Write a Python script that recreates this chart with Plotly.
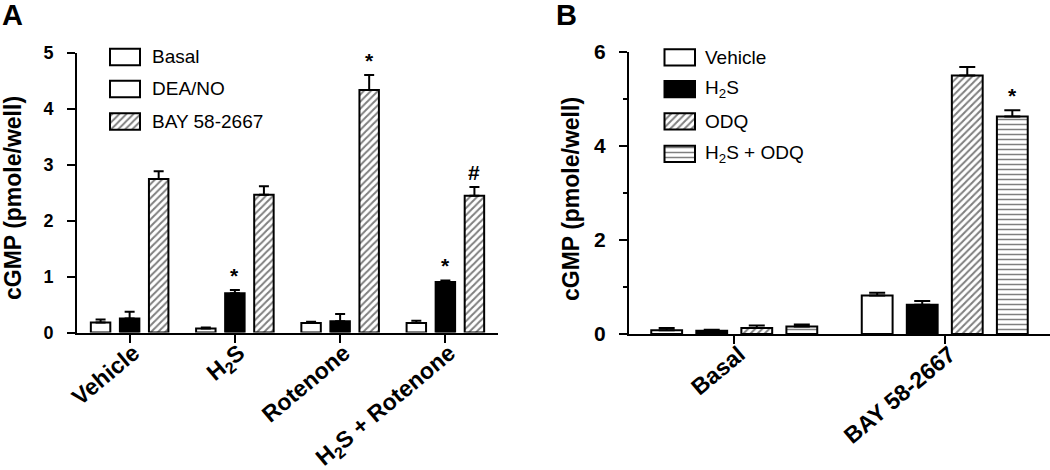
import plotly.graph_objects as go

# ---------------- Data ----------------
# Panel A
a_categories = ["Vehicle", "H<sub>2</sub>S", "Rotenone", "H<sub>2</sub>S + Rotenone"]
a_series = ["Basal", "DEA/NO", "BAY 58-2667"]
a_basal = [0.18, 0.07, 0.17, 0.17]
a_basal_err = [0.05, 0.02, 0.02, 0.04]
a_deano = [0.25, 0.70, 0.20, 0.90]
a_deano_err = [0.12, 0.06, 0.13, 0.03]
a_bay = [2.74, 2.46, 4.33, 2.44]
a_bay_err = [0.14, 0.15, 0.27, 0.16]
a_marks = [["", "", "", ""], ["", "*", "", "*"], ["", "", "*", "#"]]

# Panel B
b_categories = ["Basal", "BAY 58-2667"]
b_series = ["Vehicle", "H<sub>2</sub>S", "ODQ", "H<sub>2</sub>S + ODQ"]
b_vehicle = [0.08, 0.82]
b_vehicle_err = [0.05, 0.06]
b_h2s = [0.07, 0.62]
b_h2s_err = [0.02, 0.08]
b_odq = [0.13, 5.50]
b_odq_err = [0.05, 0.18]
b_h2s_odq = [0.16, 4.63]
b_h2s_odq_err = [0.04, 0.13]
b_marks = [["", ""], ["", ""], ["", ""], ["", "*"]]

# ---------------- Styles ----------------
FONT = "Liberation Sans, Arial, sans-serif"
W, H = 1050, 470

def style(kind):
    if kind == "white":
        return dict(color="white", pattern=dict(shape=""))
    if kind == "black":
        return dict(color="black", pattern=dict(shape=""))
    if kind == "hatch":
        return dict(color="white", pattern=dict(shape="/", fgcolor="black", bgcolor="white",
                                                 size=5, solidity=0.4, fillmode="overlay"))
    if kind == "hline":
        return dict(color="white", pattern=dict(shape="-", fgcolor="black", bgcolor="white",
                                                 size=5, solidity=0.3, fillmode="overlay"))

a_styles = ["white", "black", "hatch"]
a_legend_styles = ["white", "white", "hatch"]
b_styles = ["white", "black", "hatch", "hline"]

fig = go.Figure()

# Panel A bars
a_vals = [a_basal, a_deano, a_bay]
a_errs = [a_basal_err, a_deano_err, a_bay_err]
a_step, a_w = 0.276, 0.185
for i, (name, v, e, s) in enumerate(zip(a_series, a_vals, a_errs, a_styles)):
    c = (i - 1) * a_step
    st = style(s)
    fig.add_trace(go.Bar(
        x=a_categories, y=v, name=name, width=a_w, offset=c - a_w / 2,
        marker=dict(color=st["color"], pattern=st["pattern"], line=dict(color="black", width=2)),
        error_y=dict(type="data", array=e, arrayminus=[0] * len(e), symmetric=False,
                     color="black", thickness=2, width=5),
        xaxis="x", yaxis="y", showlegend=False))
    for j, m in enumerate(a_marks[i]):
        if m:
            fig.add_annotation(x=j + c, y=v[j] + e[j], xref="x", yref="y", text=m,
                               showarrow=False, yanchor="bottom", yshift=1,
                               font=dict(family=FONT, size=21, color="black", weight="bold"))

# Panel B bars
b_vals = [b_vehicle, b_h2s, b_odq, b_h2s_odq]
b_errs = [b_vehicle_err, b_h2s_err, b_odq_err, b_h2s_odq_err]
b_step, b_w = 0.214, 0.1465
for i, (name, v, e, s) in enumerate(zip(b_series, b_vals, b_errs, b_styles)):
    c = (i - 1.5) * b_step
    st = style(s)
    fig.add_trace(go.Bar(
        x=b_categories, y=v, name=name, width=b_w, offset=c - b_w / 2,
        marker=dict(color=st["color"], pattern=st["pattern"], line=dict(color="black", width=2)),
        error_y=dict(type="data", array=e, arrayminus=[0] * len(e), symmetric=False,
                     color="black", thickness=2, width=8),
        xaxis="x2", yaxis="y2", showlegend=False))
    for j, m in enumerate(b_marks[i]):
        if m:
            fig.add_annotation(x=j + c, y=v[j] + e[j], xref="x2", yref="y2", text=m,
                               showarrow=False, yanchor="bottom", yshift=1,
                               font=dict(family=FONT, size=21, color="black", weight="bold"))

# ---------------- Legends (pixel overlay axis) ----------------
def add_legend(names, styles_, box_x, box_w, tops, box_h, text_x):
    for name, s, top in zip(names, styles_, tops):
        st = style(s)
        fig.add_trace(go.Bar(
            x=[box_x + box_w / 2], y=[box_h], base=[top], width=[box_w],
            marker=dict(color=st["color"], pattern=st["pattern"], line=dict(color="black", width=2)),
            xaxis="x3", yaxis="y3", showlegend=False, hoverinfo="skip"))
        fig.add_annotation(x=text_x, y=top + box_h / 2, xref="x3", yref="y3", text=name,
                           showarrow=False, xanchor="left", yanchor="middle",
                           font=dict(family=FONT, size=19, color="black"))

add_legend(a_series, a_legend_styles, 110, 30, [48.7, 80.7, 113.3], 16.5, 150)
add_legend(b_series, b_styles, 664.5, 30.5, [49.3, 81.0, 113.3, 145.7], 16.3, 703)

# Panel letters and y titles
for txt, x in [("A", 12), ("B", 566)]:
    fig.add_annotation(x=x, y=15, xref="x3", yref="y3", text=txt, showarrow=False,
                       xanchor="center", yanchor="middle",
                       font=dict(family=FONT, size=29, color="black", weight="bold"))
for x, y in [(13, 198), (571, 199)]:
    fig.add_annotation(x=x, y=y, xref="x3", yref="y3", text="cGMP (pmole/well)",
                       showarrow=False, textangle=-90, xanchor="center", yanchor="middle",
                       font=dict(family=FONT, size=23, color="black", weight="bold"))

# ---------------- Layout ----------------
axis_common = dict(showline=True, linewidth=2, linecolor="black", ticks="outside",
                   tickwidth=2, tickcolor="black", showgrid=False, zeroline=False,
                   automargin=False)

fig.update_layout(
    width=W, height=H, margin=dict(l=0, r=0, t=0, b=0, autoexpand=False),
    paper_bgcolor="white", plot_bgcolor="rgba(0,0,0,0)",
    barmode="overlay", showlegend=False,
    font=dict(family=FONT, color="black"),
    xaxis=dict(domain=[77 / W, 498 / W], anchor="y", type="category",
               range=[-0.5, 3.5], ticklen=8, tickangle=-40, ticklabelstandoff=-12,
               ticklabelshift=4,
               tickfont=dict(family=FONT, size=23, color="black", weight="bold"),
               **axis_common),
    yaxis=dict(domain=[1 - 332.5 / H, 1 - 52.5 / H], anchor="x", range=[0, 5],
               dtick=1, tick0=0, ticklen=8, ticklabelstandoff=10,
               tickfont=dict(family=FONT, size=18, color="black", weight="bold"),
               **axis_common),
    xaxis2=dict(domain=[629 / W, 1.0], anchor="y2", type="category",
                range=[-0.5, 1.5], ticklen=8, tickangle=-40, ticklabelstandoff=-12,
                ticklabelshift=5,
                tickfont=dict(family=FONT, size=23, color="black", weight="bold"),
                **axis_common),
    yaxis2=dict(domain=[1 - 334 / H, 1 - 52 / H], anchor="x2", range=[0, 6],
                tickvals=[0, 2, 4, 6], ticklen=8, ticklabelstandoff=9,
                minor=dict(dtick=1, ticks="outside", ticklen=4, tickwidth=2, tickcolor="black"),
                tickfont=dict(family=FONT, size=21, color="black", weight="bold"),
                **axis_common),
    xaxis3=dict(domain=[0, 1], anchor="y3", range=[0, W], visible=False, fixedrange=True,
                automargin=False),
    yaxis3=dict(domain=[0, 1], anchor="x3", range=[H, 0], visible=False, fixedrange=True,
                automargin=False),
)

fig.write_html("out.html", config={"displayModeBar": False},
               post_script="document.body.style.margin='0px';document.body.style.overflow='hidden';")
